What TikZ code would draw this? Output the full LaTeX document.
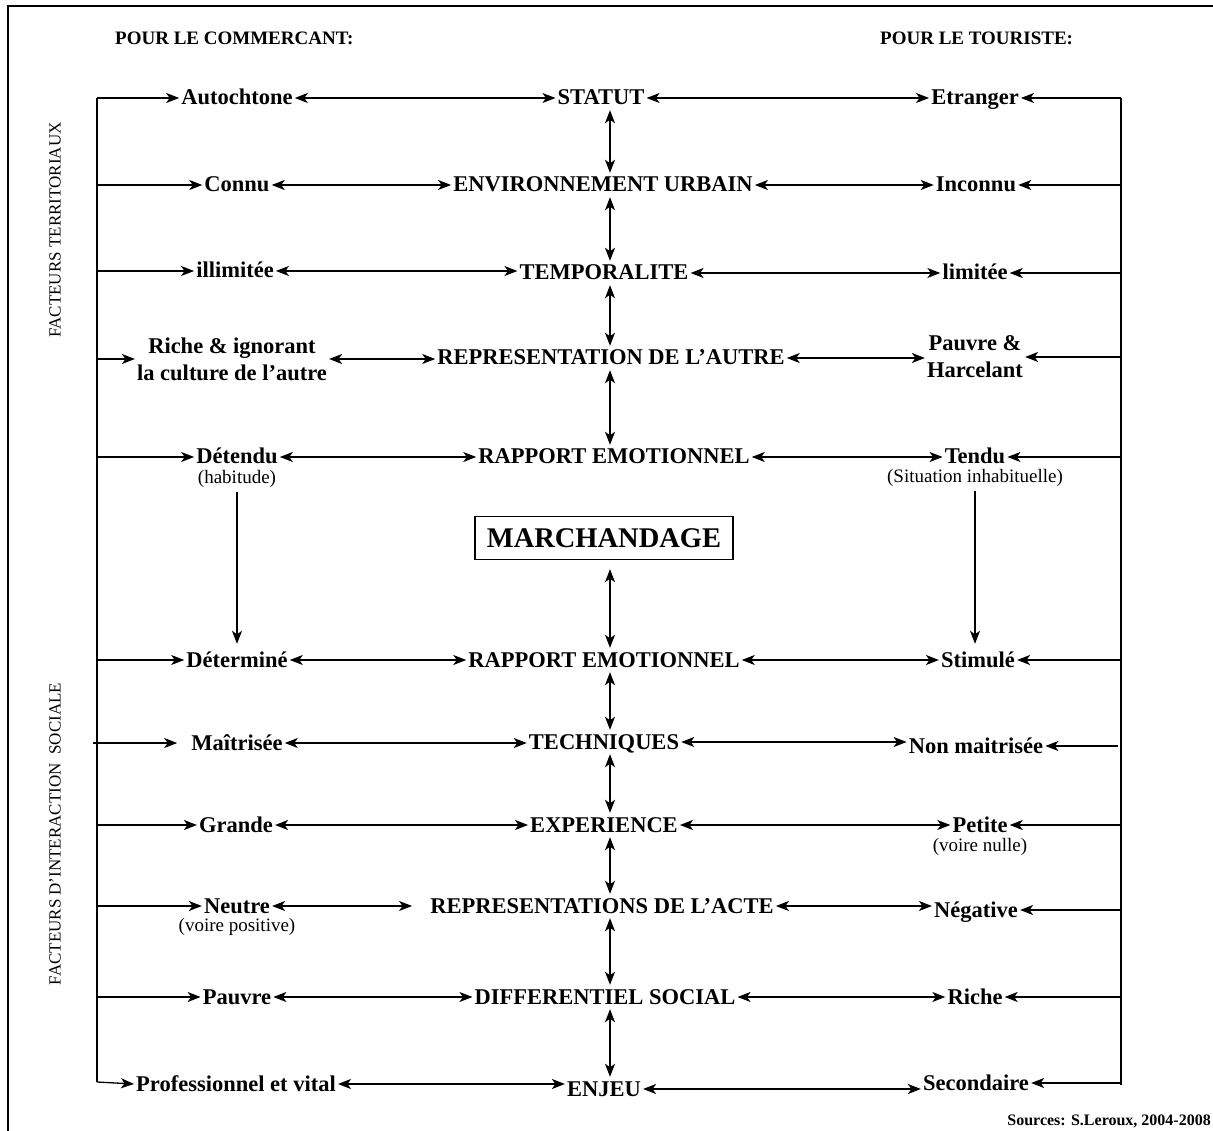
\documentclass[tikz,border=0pt]{standalone}
\usepackage{fontspec}
\setmainfont{Liberation Serif}
\usetikzlibrary{arrows.meta}
\begin{document}
\begin{tikzpicture}[x=1pt,y=-1pt,
  every node/.style={inner sep=2pt},
  itm/.style={font=\fontsize{22.5}{24}\selectfont\bfseries, text height=17pt, text depth=3pt},
  two/.style={font=\fontsize{22.5}{27}\selectfont\bfseries, align=center},
  sub/.style={font=\fontsize{19}{21}\selectfont, text height=12pt, text depth=4pt},
  ttl/.style={font=\fontsize{19}{21}\selectfont\bfseries, anchor=west},
  side/.style={font=\fontsize{17}{19}\selectfont, rotate=90},
  ln/.style={line width=1.3pt},
  ar/.style={ln,-{Stealth[length=13pt,width=10pt,inset=3.5pt]}},
  dar/.style={ln,{Stealth[length=13pt,width=10pt,inset=3.5pt]}-{Stealth[length=13pt,width=10pt,inset=3.5pt]}},
]
\useasboundingbox (0,0) rectangle (1213,1131);
\draw[line width=1.5pt] (8,1131) -- (8,6) -- (1213,6);

% titles
\node[ttl] (t1) at (113,38) {POUR LE COMMERCANT:};
\node[ttl] (t2) at (878,38) {POUR LE TOURISTE:};
\node[side] (s1) at (55,230) {FACTEURS TERRITORIAUX};
\node[side] (s2) at (55,834) {FACTEURS D’INTERACTION\ \ SOCIALE};

% side lines
\coordinate (lt) at (97,98);
\coordinate (lb) at (97,1082);
\coordinate (rt) at (1121,98);
\coordinate (rb) at (1121,1085);
\coordinate (ax) at (610,0);
\draw[ln] (lt) -- (lb);
\draw[ln] (rt) -- (rb);

% nodes
\node[itm] (auto) at (237,98) {Autochtone};
\node[itm] (statut) at (601,98) {STATUT};
\node[itm] (etr) at (975,98) {Etranger};

\node[itm] (connu) at (237,185) {Connu};
\node[itm] (env) at (603,185) {ENVIRONNEMENT URBAIN};
\node[itm] (inc) at (976,185) {Inconnu};

\node[itm] (ill) at (235,271) {illimitée};
\node[itm] (temp) at (604,273) {TEMPORALITE};
\node[itm] (lim) at (975,273) {limitée};

\node[two] (riche) at (232,359) {Riche \& ignorant\\la culture de l’autre};
\node[itm] (repr) at (611,358) {REPRESENTATION DE L’AUTRE};
\node[two] (pauv) at (975,357) {Pauvre \&\\Harcelant};

\node[itm] (det) at (237,457) {Détendu};
\node[sub] (hab) at (237,479) {(habitude)};
\node[itm] (rap1) at (614,457) {RAPPORT EMOTIONNEL};
\node[itm] (tendu) at (975,457) {Tendu};
\node[sub] (sit) at (975,478) {(Situation inhabituelle)};

\node[draw, ln, font=\fontsize{28.5}{30}\selectfont\bfseries, minimum width=258pt, minimum height=43pt, inner sep=0pt] (march) at (604,538) {MARCHANDAGE};

\node[itm] (detm) at (237,660) {Déterminé};
\node[itm] (rap2) at (604,660) {RAPPORT EMOTIONNEL};
\node[itm] (stim) at (978,660) {Stimulé};

\node[itm] (mait) at (237,743) {Maîtrisée};
\node[itm] (tech) at (604,742) {TECHNIQUES};
\node[itm] (nonm) at (976,746) {Non maitrisée};

\node[itm] (gr) at (236,825) {Grande};
\node[itm] (exp) at (604,825) {EXPERIENCE};
\node[itm] (pet) at (980,825) {Petite};
\node[sub] (vn) at (980,847) {(voire nulle)};

\node[itm] (neu) at (237,906) {Neutre};
\node[sub] (vp) at (237,927) {(voire positive)};
\node[itm] (acte) at (602,906) {REPRESENTATIONS DE L’ACTE};
\node[itm] (neg) at (976,910) {Négative};

\node[itm] (pau) at (237,997) {Pauvre};
\node[itm] (diff) at (605,997) {DIFFERENTIEL SOCIAL};
\node[itm] (rich) at (975,997) {Riche};

\node[itm] (pro) at (236,1084) {Professionnel et vital};
\node[itm] (enj) at (604,1089) {ENJEU};
\node[itm] (sec) at (976,1083) {Secondaire};

\node[font=\fontsize{16}{18}\selectfont\bfseries, anchor=east, inner sep=0pt] (src) at (1211,1121) {Sources: S.Leroux, 2004-2008};

% left line arrows
\foreach \n in {auto,connu,ill,riche,det,detm,gr,neu,pau}
  \draw[ar] (lt |- \n.west) -- (\n.west);
\draw[ar] ([xshift=-4pt]lt |- mait.west) -- ([xshift=-12pt]mait.west);
\draw[ar] (lb) -- (pro.west);

% right line arrows
\foreach \n in {etr,inc,lim,pauv,tendu,stim,pet,neg,rich,sec}
  \draw[ar] (rt |- \n.east) -- (\n.east);
\draw[ar] ([xshift=-3pt]rt |- nonm.east) -- (nonm.east);

% left-centre double arrows
\foreach \a/\b in {auto/statut,connu/env,ill/temp,riche/repr,det/rap1,detm/rap2,mait/tech,gr/exp,pau/diff,pro/enj}
  \draw[dar] (\a.east) -- (\a.east -| \b.west);
\draw[dar] (neu.east) -- ([xshift=-16pt]neu.east -| acte.west);

% centre-right double arrows
\foreach \a/\b in {statut/etr,env/inc,temp/lim,repr/pauv,rap1/tendu,rap2/stim,tech/nonm,exp/pet,acte/neg,diff/rich,enj/sec}
  \draw[dar] (\a.east) -- (\a.east -| \b.west);

% vertical centre arrows
\foreach \a/\b in {statut/env,env/temp,temp/repr,repr/rap1,rap2/tech,tech/exp,exp/acte,acte/diff,diff/enj}
  \draw[dar] (\a.south -| ax) -- (\b.north -| ax);
\draw[dar, shorten <=9pt] (march.south -| ax) -- (rap2.north -| ax);

% side vertical arrows
\draw[ar, shorten <=3pt, shorten >=4pt] (hab.south) -- (hab.south |- detm.north);
\draw[ar, shorten <=3pt, shorten >=4pt] (sit.south) -- (sit.south |- stim.north);
\end{tikzpicture}
\end{document}
